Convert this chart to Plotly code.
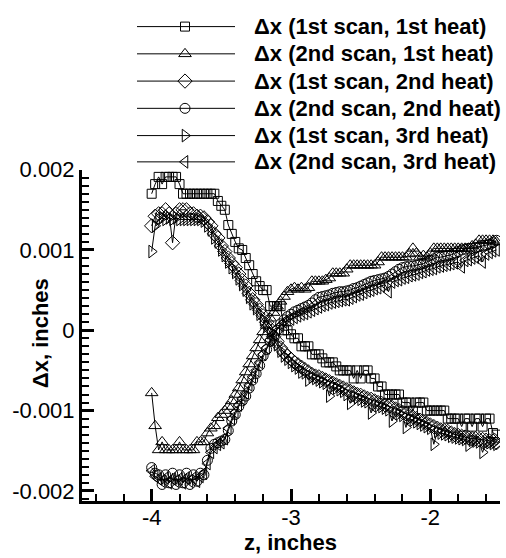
import plotly.graph_objects as go

# ---------------- data (z in inches, dx in 1e-3 inches) ----------------
z = [-4.000, -3.975, -3.950, -3.925, -3.900, -3.875, -3.850, -3.825, -3.800, -3.775,
     -3.750, -3.725, -3.700, -3.675, -3.650, -3.625, -3.600, -3.575, -3.550, -3.525,
     -3.500, -3.475, -3.450, -3.425, -3.400, -3.375, -3.350, -3.325, -3.300, -3.275,
     -3.250, -3.225, -3.200, -3.175, -3.150, -3.125, -3.100, -3.075, -3.050, -3.025,
     -3.000, -2.975, -2.950, -2.925, -2.900, -2.875, -2.850, -2.825, -2.800, -2.775,
     -2.750, -2.725, -2.700, -2.675, -2.650, -2.625, -2.600, -2.575, -2.550, -2.525,
     -2.500, -2.475, -2.450, -2.425, -2.400, -2.375, -2.350, -2.325, -2.300, -2.275,
     -2.250, -2.225, -2.200, -2.175, -2.150, -2.125, -2.100, -2.075, -2.050, -2.025,
     -2.000, -1.975, -1.950, -1.925, -1.900, -1.875, -1.850, -1.825, -1.800, -1.775,
     -1.750, -1.725, -1.700, -1.675, -1.650, -1.625, -1.600, -1.575, -1.550, -1.525]

dx_scan1_heat1 = [1.70, 1.82, 1.91, 1.82, 1.91, 1.91, 1.91, 1.91, 1.82, 1.70,
                  1.70, 1.70, 1.70, 1.70, 1.70, 1.70, 1.70, 1.70, 1.70, 1.61,
                  1.55, 1.50, 1.31, 1.20, 1.10, 1.02, 1.00, 0.90, 0.81, 0.70,
                  0.61, 0.55, 0.50, 0.50, 0.30, 0.30, 0.30, 0.30, 0.00, 0.00,
                  -0.05, -0.10, -0.10, -0.20, -0.20, -0.20, -0.30, -0.30, -0.30, -0.35,
                  -0.40, -0.40, -0.40, -0.45, -0.50, -0.50, -0.50, -0.50, -0.60, -0.50,
                  -0.60, -0.50, -0.50, -0.60, -0.60, -0.70, -0.70, -0.80, -0.80, -0.80,
                  -0.80, -0.80, -0.90, -0.90, -0.90, -1.00, -0.90, -0.90, -0.90, -1.00,
                  -1.00, -1.00, -1.00, -1.00, -1.00, -1.10, -1.10, -1.10, -1.10, -1.20,
                  -1.10, -1.10, -1.20, -1.10, -1.10, -1.20, -1.10, -1.10, -1.28, -1.30]

dx_scan2_heat1 = [-0.78, -1.19, -1.49, -1.39, -1.49, -1.49, -1.49, -1.49, -1.39, -1.49,
                  -1.49, -1.49, -1.49, -1.39, -1.39, -1.39, -1.28, -1.22, -1.19, -1.09,
                  -1.05, -1.00, -0.95, -0.88, -0.80, -0.72, -0.62, -0.52, -0.42, -0.32,
                  -0.22, -0.12, -0.02, 0.06, 0.15, 0.22, 0.30, 0.36, 0.42, 0.48,
                  0.51, 0.53, 0.51, 0.53, 0.51, 0.53, 0.61, 0.61, 0.61, 0.61,
                  0.63, 0.65, 0.71, 0.71, 0.71, 0.71, 0.76, 0.81, 0.81, 0.81,
                  0.81, 0.81, 0.81, 0.81, 0.81, 0.85, 0.91, 0.91, 0.91, 0.91,
                  0.91, 0.91, 0.91, 0.91, 0.95, 1.02, 0.96, 0.91, 0.93, 0.91,
                  0.96, 1.02, 1.02, 1.02, 1.02, 1.02, 1.02, 1.02, 1.02, 1.02,
                  1.02, 1.02, 1.05, 1.07, 1.12, 1.12, 1.12, 1.12, 1.12, 1.10]

dx_scan1_heat2 = [1.30, 1.42, 1.45, 1.45, 1.50, 1.45, 1.09, 1.45, 1.50, 1.50,
                  1.50, 1.45, 1.45, 1.42, 1.42, 1.40, 1.35, 1.30, 1.20, 1.15,
                  1.05, 0.98, 0.90, 0.83, 0.78, 0.70, 0.62, 0.55, 0.46, 0.38,
                  0.32, 0.25, 0.18, 0.10, 0.02, -0.08, -0.14, -0.22, -0.28, -0.32,
                  -0.36, -0.40, -0.43, -0.46, -0.49, -0.52, -0.55, -0.57, -0.58, -0.60,
                  -0.62, -0.64, -0.66, -0.68, -0.70, -0.72, -0.74, -0.76, -0.78, -0.80,
                  -0.81, -0.83, -0.85, -0.86, -0.88, -0.90, -0.91, -0.93, -0.94, -0.96,
                  -0.98, -1.00, -1.02, -1.04, -1.06, -1.08, -1.10, -1.12, -1.14, -1.16,
                  -1.18, -1.20, -1.22, -1.24, -1.25, -1.26, -1.28, -1.30, -1.31, -1.32,
                  -1.33, -1.34, -1.35, -1.35, -1.36, -1.36, -1.37, -1.38, -1.38, -1.40]

dx_scan2_heat2 = [-1.71, -1.78, -1.80, -1.92, -1.80, -1.90, -1.78, -1.92, -1.80, -1.90,
                  -1.78, -1.92, -1.80, -1.88, -1.78, -1.80, -1.62, -1.47, -1.42, -1.40,
                  -1.38, -1.36, -1.25, -1.13, -1.05, -0.95, -0.88, -0.82, -0.72, -0.62,
                  -0.54, -0.44, -0.32, -0.24, -0.14, -0.07, 0.00, 0.08, 0.13, 0.17,
                  0.20, 0.23, 0.25, 0.27, 0.29, 0.31, 0.34, 0.38, 0.41, 0.42,
                  0.43, 0.44, 0.46, 0.47, 0.48, 0.48, 0.49, 0.50, 0.52, 0.53,
                  0.55, 0.57, 0.59, 0.61, 0.62, 0.63, 0.64, 0.65, 0.67, 0.70,
                  0.73, 0.76, 0.78, 0.79, 0.80, 0.80, 0.81, 0.82, 0.83, 0.85,
                  0.87, 0.89, 0.91, 0.91, 0.92, 0.93, 0.94, 0.96, 0.98, 1.00,
                  1.01, 1.02, 1.02, 1.03, 1.04, 1.05, 1.06, 1.07, 1.09, 1.12]

dx_scan1_heat3 = [0.98, 1.30, 1.38, 1.40, 1.38, 1.40, 1.38, 1.40, 1.38, 1.38,
                  1.38, 1.38, 1.38, 1.38, 1.38, 1.36, 1.30, 1.25, 1.15, 1.10,
                  1.00, 0.93, 0.85, 0.78, 0.72, 0.64, 0.57, 0.50, 0.41, 0.33,
                  0.27, 0.20, 0.13, 0.05, -0.03, -0.12, -0.18, -0.26, -0.32, -0.36,
                  -0.40, -0.44, -0.47, -0.52, -0.53, -0.62, -0.58, -0.60, -0.62, -0.64,
                  -0.66, -0.82, -0.70, -0.72, -0.74, -0.76, -0.80, -0.91, -0.82, -0.84,
                  -0.86, -0.88, -0.89, -1.03, -0.92, -0.94, -0.95, -0.97, -0.99, -1.13,
                  -1.02, -1.04, -1.06, -1.21, -1.10, -1.12, -1.14, -1.16, -1.18, -1.20,
                  -1.22, -1.42, -1.26, -1.28, -1.29, -1.30, -1.32, -1.33, -1.34, -1.35,
                  -1.36, -1.43, -1.37, -1.38, -1.39, -1.52, -1.40, -1.40, -1.41, -1.42]

dx_scan2_heat3 = [-1.75, -1.82, -1.85, -1.88, -1.84, -1.90, -1.85, -1.88, -1.85, -1.90,
                  -1.84, -1.88, -1.84, -1.88, -1.82, -1.78, -1.66, -1.52, -1.46, -1.42,
                  -1.40, -1.35, -1.22, -1.10, -1.02, -0.93, -0.85, -0.78, -0.68, -0.58,
                  -0.50, -0.40, -0.30, -0.22, -0.12, -0.05, 0.02, 0.06, 0.10, 0.13,
                  0.14, 0.16, 0.18, 0.20, 0.21, 0.23, 0.25, 0.27, 0.29, 0.31,
                  0.32, 0.34, 0.35, 0.36, 0.37, 0.38, 0.38, 0.40, 0.42, 0.44,
                  0.45, 0.47, 0.49, 0.50, 0.52, 0.53, 0.55, 0.57, 0.48, 0.60,
                  0.62, 0.63, 0.65, 0.66, 0.68, 0.69, 0.70, 0.72, 0.73, 0.75,
                  0.76, 0.77, 0.79, 0.80, 0.81, 0.82, 0.83, 0.84, 0.85, 0.79,
                  0.87, 0.88, 0.90, 0.91, 0.93, 0.85, 0.95, 0.97, 0.99, 1.00]

names = ["\u0394x (1st scan, 1st heat)", "\u0394x (2nd scan, 1st heat)",
         "\u0394x (1st scan, 2nd heat)", "\u0394x (2nd scan, 2nd heat)",
         "\u0394x (1st scan, 3rd heat)", "\u0394x (2nd scan, 3rd heat)"]
series = [dx_scan1_heat1, dx_scan2_heat1, dx_scan1_heat2,
          dx_scan2_heat2, dx_scan1_heat3, dx_scan2_heat3]
symbols = ["square-open", "triangle-up-open", "diamond-open",
           "circle-open", "triangle-right-open", "triangle-left-open"]
sizes = [9, 11, 11, 10, 11, 11]

y_ticks = [-0.002, -0.001, 0.0, 0.001, 0.002]
y_ticktext = ["-0.002", "-0.001", "0", "0.001", "0.002"]
x_ticks = [-4, -3, -2]
x_ticktext = ["-4", "-3", "-2"]

# ---------------- figure ----------------
W, H = 506, 558
PL, PR, PT, PB = 82, 500, 162, 502  # plot box in pixels
FONT = "Liberation Sans, Arial, sans-serif"

fig = go.Figure()
for nm, vals, sym, sz in zip(names, series, symbols, sizes):
    fig.add_trace(go.Scatter(
        x=z, y=[v * 1e-3 for v in vals], mode="lines+markers", name=nm,
        line=dict(color="black", width=1),
        marker=dict(symbol=sym, size=sz, color="black", line=dict(color="black", width=1)),
        showlegend=False, xaxis="x", yaxis="y"))

# legend glyphs on an overlay pixel-coordinate axis
row_y = [15, 43, 71, 99, 127, 154]
for i, (sym, sz) in enumerate(zip(symbols, sizes)):
    fig.add_trace(go.Scatter(x=[137, 235], y=[row_y[i], row_y[i]], mode="lines",
                             line=dict(color="black", width=1), showlegend=False,
                             xaxis="x2", yaxis="y2", hoverinfo="skip"))
    fig.add_trace(go.Scatter(x=[185], y=[row_y[i]], mode="markers",
                             marker=dict(symbol=sym, size=sz, color="black",
                                         line=dict(color="black", width=1)),
                             showlegend=False, xaxis="x2", yaxis="y2", hoverinfo="skip"))

annotations = []
for i, nm in enumerate(names):
    annotations.append(dict(x=252 / W, y=1 - row_y[i] / H, xref="paper", yref="paper",
                            text=nm, showarrow=False, xanchor="left", yanchor="middle",
                            font=dict(family=FONT, size=22, color="black", weight="bold")))
annotations.append(dict(x=290 / W, y=1 - 545 / H, xref="paper", yref="paper",
                        text="z, inches", showarrow=False, xanchor="center", yanchor="middle",
                        font=dict(family=FONT, size=22, color="black", weight="bold")))
annotations.append(dict(x=40 / W, y=1 - 330 / H, xref="paper", yref="paper",
                        text="\u0394x, inches", showarrow=False, textangle=-90,
                        xanchor="center", yanchor="middle",
                        font=dict(family=FONT, size=22, color="black", weight="bold")))

axis_common = dict(showgrid=False, zeroline=False, showline=True, linecolor="black",
                   linewidth=3, ticks="inside", ticklen=12, tickwidth=3, tickcolor="black",
                   tickfont=dict(family=FONT, size=22, color="black"), tickmode="array")

fig.update_layout(
    width=W, height=H, margin=dict(l=0, r=0, t=0, b=0),
    paper_bgcolor="white", plot_bgcolor="rgba(0,0,0,0)",
    showlegend=False, annotations=annotations,
    xaxis=dict(domain=[PL / W, PR / W], range=[-4.5, -1.5], anchor="y",
               tickvals=x_ticks, ticktext=x_ticktext, ticklabelstandoff=-5,
               minor=dict(tickmode="linear", tick0=0, dtick=0.2, ticks="inside",
                          ticklen=7, tickwidth=2, tickcolor="black", showgrid=False),
               **axis_common),
    yaxis=dict(domain=[1 - PB / H, 1 - PT / H], range=[-0.00212, 0.002], anchor="x",
               tickvals=y_ticks, ticktext=y_ticktext,
               minor=dict(tickmode="linear", tick0=0, dtick=0.0001, ticks="inside",
                          ticklen=7, tickwidth=2, tickcolor="black", showgrid=False),
               **axis_common),
    xaxis2=dict(domain=[0, 1], range=[0, W], visible=False, anchor="y2", fixedrange=True),
    yaxis2=dict(domain=[0, 1], range=[H, 0], visible=False, anchor="x2", fixedrange=True),
)

fig.write_html("out.html")
